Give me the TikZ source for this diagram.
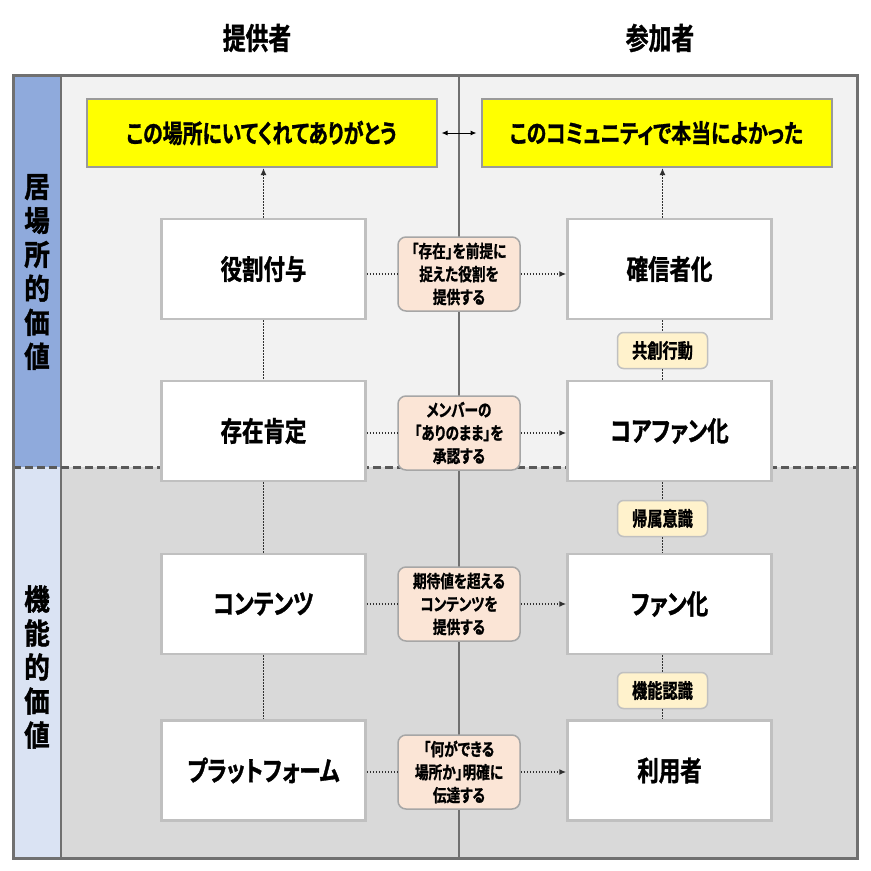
\documentclass[tikz,border=0pt]{standalone}
\usepackage{fontspec}
\usetikzlibrary{arrows.meta}
\newfontfamily\jp[FakeStretch=0.78, FakeBold=1.2, RawFeature=+palt]{Noto Sans CJK JP Bold}
\newfontfamily\jpk[FakeStretch=0.76, FakeBold=1.2]{Noto Sans CJK JP Bold}
\newfontfamily\jpv[FakeStretch=0.88, FakeBold=1.4]{Noto Sans CJK JP Bold}
\definecolor{colblue}{HTML}{8FAADC}
\definecolor{colltblue}{HTML}{DAE3F3}
\definecolor{bgtop}{HTML}{F2F2F2}
\definecolor{bgbot}{HTML}{D9D9D9}
\definecolor{frame}{HTML}{707070}
\definecolor{boxline}{HTML}{C0C0C0}
\definecolor{pinkfill}{HTML}{FBE5D6}
\definecolor{tanfill}{HTML}{FFF2CC}
\definecolor{yel}{HTML}{FFFF00}
\definecolor{dotcol}{HTML}{303030}
\begin{document}
\begin{tikzpicture}[x=1pt,y=-1pt,
  hdr/.style={font=\jpk\fontsize{30}{30}\selectfont, inner sep=0},
  yelbox/.style={draw=boxline!80!black, line width=2pt, fill=yel, minimum width=350pt, minimum height=68pt, inner sep=0, font=\jp\fontsize{25.5}{25.5}\selectfont},
  wbox/.style={draw=boxline, line width=2.5pt, fill=white, minimum width=204pt, minimum height=100pt, inner sep=0, font=\jp\fontsize{27.5}{27.5}\selectfont},
  pbox/.style={draw=black!35, line width=1.5pt, fill=pinkfill, rounded corners=8pt, minimum width=122pt, minimum height=74pt, inner sep=0, align=center, font=\jp\fontsize{17.5}{23}\selectfont},
  tbox/.style={draw=boxline, line width=1.5pt, fill=tanfill, rounded corners=6pt, minimum width=90pt, minimum height=36pt, inner sep=0, font=\jpk\fontsize{20}{20}\selectfont},
  vlab/.style={align=center, inner sep=0, font=\jpv\fontsize{29}{34}\selectfont},
  dotl/.style={draw=dotcol, line width=1.4pt, dash pattern=on 1.4pt off 1.6pt},
  dota/.style={dotl, -{Latex[length=7pt,width=6pt]}},
  dbl/.style={draw=black, line width=1pt, {Latex[length=6pt,width=5pt]}-{Latex[length=6pt,width=5pt]}}
]
\useasboundingbox (0,0) rectangle (871,871);
\fill[white] (0,0) rectangle (871,871);
% backgrounds
\fill[colblue] (13,75) rectangle (61,467);
\fill[colltblue] (13,467) rectangle (61,858);
\fill[bgtop] (61,75) rectangle (857,467);
\fill[bgbot] (61,467) rectangle (857,858);
\draw[frame, line width=2pt] (61,75) -- (61,858);
\draw[frame, line width=2pt] (459,75) -- (459,858);
\draw[black!65, line width=3pt, dash pattern=on 8pt off 4pt] (13,467) -- (857,467);
\draw[frame, line width=3pt] (13,75) rectangle (857,858);

% headers
\node[hdr] (h1) at (257,38) {提供者};
\node[hdr] (h2) at (660,38) {参加者};

% vertical labels
\node[vlab] (v1) at (37,272) {居\\場\\所\\的\\価\\値};
\node[vlab] (v2) at (37,667) {機\\能\\的\\価\\値};

% yellow boxes
\node[yelbox] (yl) at (261.5,133) {この場所にいてくれてありがとう};
\node[yelbox] (yr) at (656.5,133) {このコミュニティで本当によかった};

% left boxes
\node[wbox] (l1) at (263.5,269) {役割付与};
\node[wbox] (l2) at (263.5,431) {存在肯定};
\node[wbox] (l3) at (263.5,604) {コンテンツ};
\node[wbox] (l4) at (263.5,770.5) {プラットフォーム};

% right boxes
\node[wbox] (r1) at (669.5,269) {確信者化};
\node[wbox] (r2) at (669.5,431) {コアファン化};
\node[wbox] (r3) at (669.5,604) {ファン化};
\node[wbox] (r4) at (669.5,770.5) {利用者};

% pink boxes
\node[pbox] (p1) at (459,274) {「存在」を前提に\\捉えた役割を\\提供する};
\node[pbox] (p2) at (459,433) {メンバーの\\「ありのまま」を\\承認する};
\node[pbox] (p3) at (459,604) {期待値を超える\\コンテンツを\\提供する};
\node[pbox] (p4) at (459,772) {「何ができる\\場所か」明確に\\伝達する};

% tan labels
\node[tbox] (t1) at (662.5,350.5) {共創行動};
\node[tbox] (t2) at (662.5,518.5) {帰属意識};
\node[tbox] (t3) at (662.5,690.5) {機能認識};

% horizontal connectors
\draw[dotl] (l1.east |- p1.west) -- (p1.west);
\draw[dota] (p1.east) -- (p1.east -| r1.west);
\draw[dotl] (l2.east |- p2.west) -- (p2.west);
\draw[dota] (p2.east) -- (p2.east -| r2.west);
\draw[dotl] (l3.east |- p3.west) -- (p3.west);
\draw[dota] (p3.east) -- (p3.east -| r3.west);
\draw[dotl] (l4.east |- p4.west) -- (p4.west);
\draw[dota] (p4.east) -- (p4.east -| r4.west);

% left vertical connectors
\draw[dota] (l1.north) -- (l1.north |- yl.south);
\draw[dotl] (l1.south) -- (l2.north);
\draw[dotl] (l2.south) -- (l3.north);
\draw[dotl] (l3.south) -- (l4.north);

% right vertical connectors
\draw[dota] (t1 |- r1.north) -- (t1 |- yr.south);
\draw[dotl] (t1 |- r1.south) -- (t1.north);
\draw[dotl] (t1.south) -- (t1 |- r2.north);
\draw[dotl] (t2 |- r2.south) -- (t2.north);
\draw[dotl] (t2.south) -- (t2 |- r3.north);
\draw[dotl] (t3 |- r3.south) -- (t3.north);
\draw[dotl] (t3.south) -- (t3 |- r4.north);

% double arrow between yellow boxes
\draw[dbl] ([xshift=4pt]yl.east) -- ([xshift=-4pt]yr.west);
\end{tikzpicture}
\end{document}
